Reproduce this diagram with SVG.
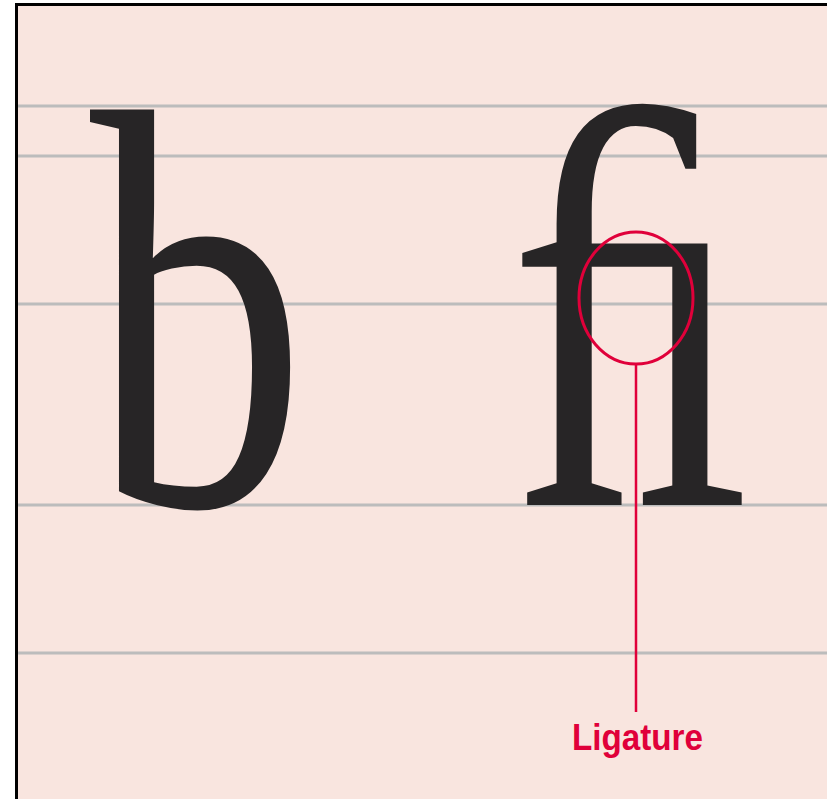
<svg xmlns="http://www.w3.org/2000/svg" width="827" height="799" viewBox="0 0 827 799">
  <style>
    .guide { stroke: #bcbcbc; stroke-width: 3; }
    .glyph { font-family: "Liberation Serif", "DejaVu Serif", serif; font-size: 570px; fill: #272526; }
    .callout { stroke: #e0003a; fill: none; }
    .label { font-family: "Liberation Sans", "DejaVu Sans", sans-serif; font-weight: bold; font-size: 36px; fill: #e0003a; }
  </style>
  <rect x="0" y="0" width="827" height="799" fill="#ffffff"/>
  <rect x="15" y="3" width="812" height="796" fill="#f9e5df"/>
  <g id="guides">
    <line class="guide" x1="18" y1="106" x2="827" y2="106"/>
    <line class="guide" x1="18" y1="156" x2="827" y2="156"/>
    <line class="guide" x1="18" y1="304" x2="827" y2="304"/>
    <line class="guide" x1="18" y1="505" x2="827" y2="505"/>
    <line class="guide" x1="18" y1="653" x2="827" y2="653"/>
  </g>
  <g id="border">
    <rect x="15" y="3" width="812" height="3" fill="#000000"/>
    <rect x="15" y="3" width="3" height="796" fill="#000000"/>
  </g>
  <g id="letter-b">
    <text class="glyph" transform="translate(90,505) scale(0.76,1)" x="0" y="0">b</text>
  </g>
  <g id="ligature-fi">
    <text class="glyph" transform="translate(509,505) scale(0.76,1)" x="0" y="0">ﬁ</text>
  </g>
  <g id="connectors">
    <ellipse class="callout" cx="636" cy="298" rx="57" ry="66" stroke-width="3"/>
    <line class="callout" x1="636" y1="364" x2="636" y2="712" stroke-width="2.5"/>
  </g>
  <g id="label">
    <text class="label" x="572" y="750" textLength="131" lengthAdjust="spacingAndGlyphs">Ligature</text>
  </g>
</svg>
